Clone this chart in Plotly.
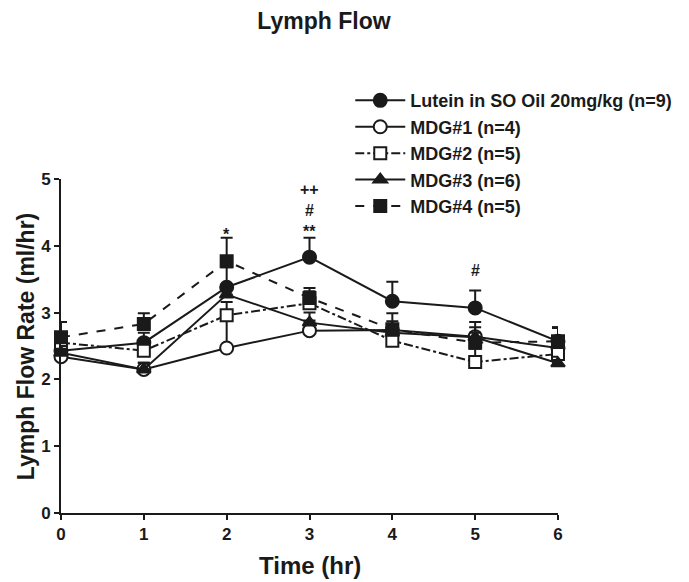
import plotly.graph_objects as go

time_hr = [0, 1, 2, 3, 4, 5, 6]

series_names = [
    "Lutein in SO Oil 20mg/kg (n=9)",
    "MDG#1 (n=4)",
    "MDG#2 (n=5)",
    "MDG#3 (n=6)",
    "MDG#4 (n=5)",
]
lutein = [2.43, 2.55, 3.38, 3.83, 3.17, 3.07, 2.57]
mdg1 = [2.34, 2.15, 2.47, 2.73, 2.74, 2.64, 2.47]
mdg2 = [2.55, 2.43, 2.96, 3.14, 2.58, 2.26, 2.38]
mdg3 = [2.40, 2.15, 3.27, 2.85, 2.70, 2.63, 2.24]
mdg4 = [2.63, 2.83, 3.77, 3.22, 2.75, 2.55, 2.57]

lutein_err = [0.10, 0.15, 0.30, 0.29, 0.29, 0.26, 0.20]
mdg1_err = [0.10, 0.10, 0.50, 0.15, 0.25, 0.22, 0.31]
mdg2_err = [0.12, 0.15, 0.20, 0.18, 0.15, 0.20, 0.15]
mdg3_err = [0.10, 0.10, 0.15, 0.15, 0.12, 0.15, 0.10]
mdg4_err = [0.23, 0.16, 0.35, 0.15, 0.12, 0.15, 0.21]

annot_x = [2, 3, 3, 3, 5]
annot_y = [4.17, 4.21, 4.53, 4.85, 3.63]
annot_text = ["*", "**", "#", "++", "#"]

values = [lutein, mdg1, mdg2, mdg3, mdg4]
errors = [lutein_err, mdg1_err, mdg2_err, mdg3_err, mdg4_err]
symbols = ["circle", "circle", "square", "triangle-up", "square"]
fills = ["#1a1a1a", "white", "white", "#1a1a1a", "#1a1a1a"]
dashes = ["solid", "solid", "dashdot", "solid", "dash"]

INK = "#1a1a1a"
fig = go.Figure()
for name, v, e, sym, fc, dsh in zip(series_names, values, errors, symbols, fills, dashes):
    fig.add_trace(go.Scatter(
        x=time_hr, y=v, name=f"<b>{name}</b>", mode="lines+markers",
        line=dict(color=INK, width=2, dash=dsh),
        marker=dict(symbol=sym, size=13 if sym == "circle" else 12,
                    color=fc, line=dict(color=INK, width=2)),
        error_y=dict(type="data", array=e, arrayminus=[0] * len(e),
                     color=INK, thickness=2, width=6),
        cliponaxis=False,
    ))

for xx, yy, tt in zip(annot_x, annot_y, annot_text):
    fig.add_annotation(x=xx, y=yy, text=f"<b>{tt}</b>", showarrow=False,
                       xanchor="center", yanchor="middle",
                       font=dict(size=16, color=INK))

# axis titles placed as annotations
fig.add_annotation(xref="paper", yref="paper", x=-0.07, y=0.5,
                   text="<b>Lymph Flow Rate (ml/hr)</b>", textangle=-90,
                   showarrow=False, xanchor="center", yanchor="middle",
                   font=dict(size=23, color=INK))
fig.add_annotation(xref="paper", yref="paper", x=0.5, y=-0.156,
                   text="<b>Time (hr)</b>", showarrow=False,
                   xanchor="center", yanchor="middle",
                   font=dict(size=24, color=INK))

font_family = "Liberation Sans, Arial, sans-serif"
fig.update_layout(
    width=681, height=574,
    plot_bgcolor="white", paper_bgcolor="white",
    margin=dict(l=53, r=102, t=171, b=69),
    font=dict(family=font_family, color=INK),
    title=dict(text="<b>Lymph Flow</b>", x=316 / 681, xanchor="center",
               y=1 - 5 / 574, yanchor="top", pad=dict(t=0, b=0),
               font=dict(size=23, color=INK)),
    showlegend=True,
    legend=dict(x=0.582, y=1.29, xanchor="left", yanchor="top",
                bgcolor="rgba(0,0,0,0)", font=dict(size=18, color=INK),
                itemwidth=50, tracegroupgap=0),
    xaxis=dict(range=[0, 6], tickvals=time_hr, ticktext=[f"<b>{t}</b>" for t in time_hr],
               showgrid=False, zeroline=False, showline=True, linecolor=INK,
               linewidth=2, ticks="outside", ticklen=5, tickwidth=2, tickcolor=INK,
               tickfont=dict(size=17, color=INK)),
    yaxis=dict(range=[0, 5], tickvals=[0, 1, 2, 3, 4, 5],
               ticktext=[f"<b>{t}</b>" for t in range(6)],
               showgrid=False, zeroline=False, showline=True, linecolor=INK,
               linewidth=2, ticks="outside", ticklen=5, tickwidth=2, tickcolor=INK,
               tickfont=dict(size=17, color=INK)),
)

fig.write_html("out.html")
